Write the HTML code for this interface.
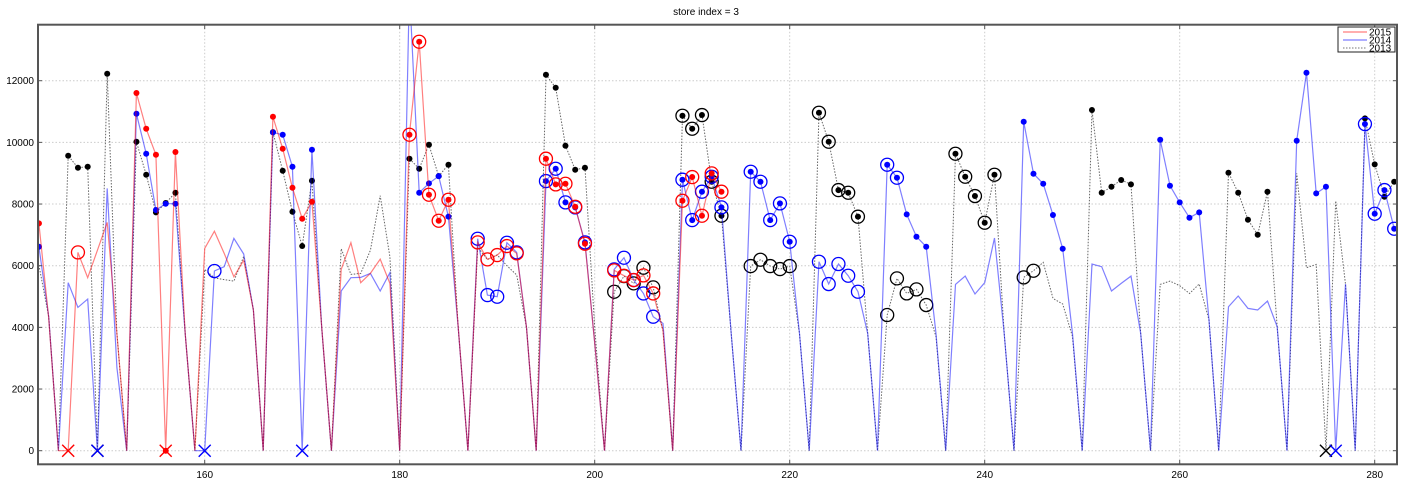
<!DOCTYPE html>
<html><head><meta charset="utf-8"><style>
html,body{margin:0;padding:0;background:#fff;}
svg{display:block;font-family:"Liberation Sans",sans-serif;}
</style></head><body>
<svg id="chart" width="1412" height="480" xmlns="http://www.w3.org/2000/svg">
<defs><clipPath id="plotclip"><rect x="38" y="24.7" width="1359" height="439.6"/></clipPath></defs>
<text x="706" y="15" font-size="10" text-anchor="middle">store index = 3</text>
<g id="grid"></g>
<g id="series" clip-path="url(#plotclip)"></g>
<rect x="38" y="24.7" width="1359" height="439.6" fill="none" stroke="#555" stroke-width="2"/>
<g id="ticks"></g>
<g>
<rect x="1338" y="27" width="57" height="25" fill="#fff" stroke="#222" stroke-width="1"/>
<line x1="1343" y1="32" x2="1367" y2="32" stroke="#f66" stroke-opacity="0.7" stroke-width="1.5"/>
<text x="1369" y="35.5" font-size="10">2015</text>
<line x1="1343" y1="40" x2="1367" y2="40" stroke="#66f" stroke-opacity="0.7" stroke-width="1.5"/>
<text x="1369" y="43.5" font-size="10">2014</text>
<line x1="1343" y1="48" x2="1367" y2="48" stroke="#777" stroke-dasharray="1.5,1.5" stroke-width="1"/>
<text x="1369" y="51.5" font-size="10">2013</text>
</g>
</svg>
<script>
const startDay = 143;
const xTicks = [160, 180, 200, 220, 240, 260, 280];
const yTicks = [0, 2000, 4000, 6000, 8000, 10000, 12000];
const sales2015 = [7372,4300,0,0,6432,5610,6500,7405,3800,0,11600,10440,9600,0,9686,3800,0,6560,7120,6400,5640,6180,4560,0,10832,9794,8529,7524,8075,4020,0,5880,6745,5448,5750,6215,5427,0,10248,13264,8302,7459,8140,4020,0,6756,6205,6345,6637,6400,4000,0,9470,8637,8659,7913,6713,3500,0,5848,5675,5535,5686,5100,3900,0,8107,8875,7620,8994,8400];
const sales2014 = [6615,4350,0,5448,4648,4918,0,8507,2700,0,10930,9632,7805,8010,8010,3800,0,0,5827,5967,6886,6378,4560,0,10324,10248,9210,0,9761,4000,0,5178,5610,5621,5750,5178,5772,0,15000,8367,8670,8907,7590,4000,0,6875,5048,4994,6745,6432,4000,0,8745,9145,8053,7891,6756,3500,0,5880,6259,5535,5100,4346,4130,0,8789,7480,8400,8886,7891,3800,0,9048,8724,7480,8021,6778,3800,0,6129,5405,6054,5675,5156,3800,0,9275,8853,7664,6940,6616,3800,0,5394,5664,5081,5448,6897,3800,0,10669,8983,8659,7643,6551,3800,0,6054,5967,5178,5427,5664,3800,0,10086,8594,8053,7556,7729,4240,0,4670,5016,4616,4562,4854,4020,0,10053,12259,8345,8561,0,5405,0,10594,7686,8453,7199];
const sales2013 = [6020,4350,0,9567,9178,9210,0,12226,3800,0,10020,8950,7730,8032,8367,3800,0,5880,5600,5550,5500,6300,4560,0,10334,9080,7750,6637,8756,4000,0,6550,5718,5750,6500,8270,6290,0,9470,9145,9924,8907,9275,4000,0,6600,6200,6350,6000,5700,4000,0,12194,11772,9891,9113,9178,4000,0,5156,5664,5427,5935,5297,3900,0,10864,10442,10886,8724,7620,3800,0,5988,6194,5988,5891,5988,3800,0,10961,10021,8453,8367,7590,3800,0,4400,5589,5102,5232,4724,3700,0,9632,8886,8259,7394,8951,3800,0,5621,5837,6108,4940,4757,3700,0,11048,8367,8562,8778,8637,3800,0,5394,5502,5351,5100,5405,4240,0,9015,8367,7491,7005,8400,4000,0,8994,5935,6043,0,8097,5400,0,10778,9286,8237,8724];
const dots2015 = [143,153,154,155,156,157,167,168,169,170,171,181,182,183,184,185,195,196,197,198,199,209,210,211,212,213];
const circles2015 = [147,181,182,183,184,185,188,189,190,191,192,195,196,197,198,199,202,203,204,205,206,209,210,211,212,213];
const crosses2015 = [146,156];
const dots2014 = [143,153,154,155,156,157,167,168,169,171,182,183,184,185,195,196,197,198,199,209,210,211,212,213,216,217,218,219,220,230,231,232,233,234,244,245,246,247,248,258,259,260,261,262,272,273,274,275,279,280,281,282];
const circles2014 = [161,188,189,190,191,192,195,196,197,198,199,202,203,204,205,206,209,210,211,212,213,216,217,218,219,220,223,224,225,226,227,230,231,279,280,281,282];
const crosses2014 = [149,160,170,276];
const dots2013 = [146,147,148,150,153,154,155,156,157,167,168,169,170,171,181,182,183,184,185,195,196,197,198,199,209,210,211,212,213,223,224,225,226,227,237,238,239,240,241,251,252,253,254,255,265,266,267,268,269,279,280,281,282];
const circles2013 = [202,203,204,205,206,209,210,211,212,213,216,217,218,219,220,223,224,225,226,227,230,231,232,233,234,237,238,239,240,241,244,245];
const crosses2013 = [149,275];

const NS = "http://www.w3.org/2000/svg";
function xs(d){ return 204.7 + (d - 160) * 9.75; }
function ys(v){ return 450.7 - v * 0.030833; }
function mk(tag, attrs, parent){ const e = document.createElementNS(NS, tag); for (const k in attrs) e.setAttribute(k, attrs[k]); parent.appendChild(e); return e; }

const grid = document.getElementById('grid');
const ticks = document.getElementById('ticks');
xTicks.forEach(t => {
  const x = xs(t);
  const g = mk('line', {x1:x, y1:24.7, x2:x, y2:464.3, stroke:'#ccc', 'stroke-dasharray':'1.5,2', 'stroke-width':1}, grid);
  
  
  mk('line', {x1:x, y1:464.3, x2:x, y2:460, stroke:'#555'}, ticks);
  mk('line', {x1:x, y1:24.7, x2:x, y2:29, stroke:'#555'}, ticks);
  const lb = mk('text', {x:x, y:478, 'font-size':10, 'text-anchor':'middle'}, ticks);
  lb.textContent = t;
  
  
});
yTicks.forEach(t => {
  const y = ys(t);
  const g = mk('line', {x1:38, y1:y, x2:1397, y2:y, stroke:'#ccc', 'stroke-dasharray':'1.5,2', 'stroke-width':1}, grid);
  
  
  mk('line', {x1:38, y1:y, x2:42, y2:y, stroke:'#555'}, ticks);
  mk('line', {x1:1397, y1:y, x2:1393, y2:y, stroke:'#555'}, ticks);
  const lb = mk('text', {x:34, y:y+3.5, 'font-size':10, 'text-anchor':'end'}, ticks);
  lb.textContent = t;
  
  
});

const ser = document.getElementById('series');
function drawSeries(vals, color, dashed, name, dots, circles, crosses){
  const g = mk('g', {}, ser);
  
  
  const pts = vals.map((v,i) => xs(startDay+i).toFixed(1) + ',' + ys(v).toFixed(1)).join(' ');
  const line = mk('polyline', dashed ? {points:pts, fill:'none', stroke:'#666', 'stroke-width':1, 'stroke-dasharray':'1.5,1.5'} : {points:pts, fill:'none', stroke:color, 'stroke-opacity':0.5, 'stroke-width':1.2}, g);
  
  
  const val = d => vals[d - startDay];
  circles.forEach(d => {
    const c = mk('circle', {cx:xs(d), cy:ys(val(d)), r:6.5, fill:'none', stroke:color, 'stroke-width':1.3}, g);
    
    
  });
  dots.forEach(d => {
    const c = mk('circle', {cx:xs(d), cy:ys(val(d)), r:3, fill:color}, g);
    
    
  });
  crosses.forEach(d => {
    const x = xs(d), y = ys(val(d));
    const p = mk('path', {d:`M${x-6},${y-6}L${x+6},${y+6}M${x-6},${y+6}L${x+6},${y-6}`, stroke:color, 'stroke-width':1.4, fill:'none'}, g);
    
    
  });
}
drawSeries(sales2013, '#000', true, 'series-2013', dots2013, circles2013, crosses2013);
drawSeries(sales2014, '#00f', false, 'series-2014', dots2014, circles2014, crosses2014);
drawSeries(sales2015, '#f00', false, 'series-2015', dots2015, circles2015, crosses2015);
</script>
</body></html>
